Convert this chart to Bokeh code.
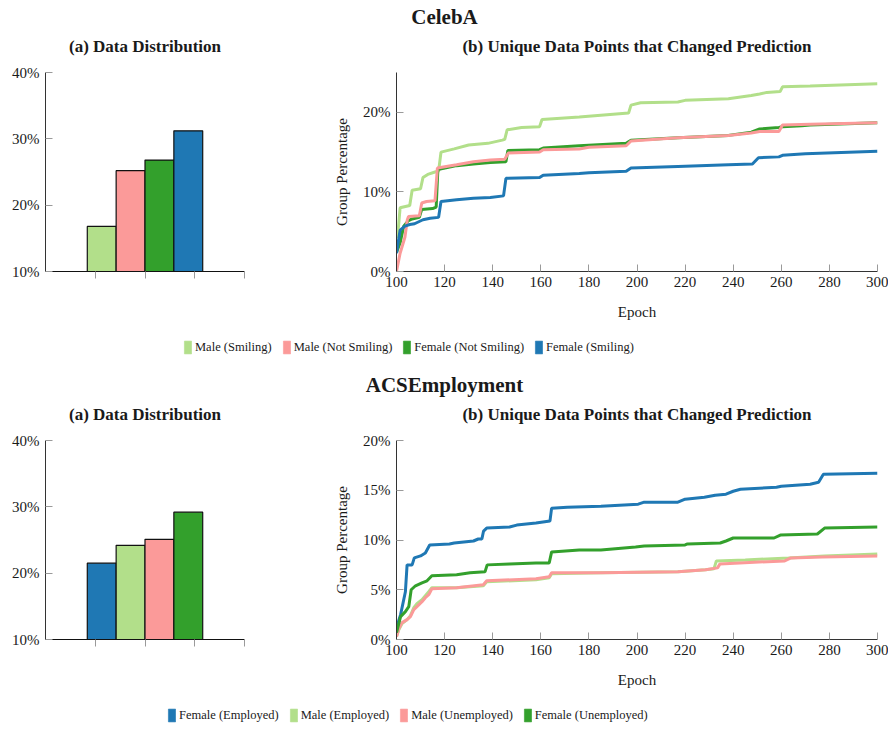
from bokeh.plotting import figure
from bokeh.models import (Range1d, FixedTicker, PrintfTickFormatter, Label, Legend, LegendItem,
                          CustomLabelingPolicy)
from bokeh.layouts import column, row
from bokeh.embed import file_html
from bokeh.resources import INLINE

SERIF = "Liberation Serif"
C_LGREEN = "#b2df8a"
C_PINK = "#fb9a99"
C_GREEN = "#33a02c"
C_BLUE = "#1f78b4"

# ---------------- CelebA ----------------
celeba_title = "CelebA"
celeba_groups = ["Male (Smiling)", "Male (Not Smiling)", "Female (Not Smiling)", "Female (Smiling)"]
celeba_colors = [C_LGREEN, C_PINK, C_GREEN, C_BLUE]
celeba_dist = [16.8, 25.2, 26.8, 31.2]

celeba_ms_ep = [100, 100.5, 101.5, 105.5, 106.5, 110, 111, 113, 116, 117.5, 118.5, 124, 130, 138, 144, 145, 146,
                152, 159.5, 160.5, 176, 196.5, 197.5, 201.5, 217, 220, 238, 247.5, 251, 254, 259.5, 260.5, 272, 300]
celeba_ms_val = [4.3, 4.5, 8.0, 8.3, 10.2, 10.4, 11.8, 12.2, 12.5, 12.6, 15.0, 15.4, 15.9, 16.1, 16.5, 16.6, 17.8,
                 18.1, 18.2, 19.1, 19.4, 19.9, 20.9, 21.2, 21.3, 21.5, 21.7, 22.1, 22.3, 22.5, 22.6, 23.2, 23.3, 23.6]

celeba_mns_ep = [100, 101.5, 103.5, 104.5, 105, 109.5, 110.5, 112.5, 116, 117, 125, 132, 139, 145, 146.5, 159.5,
                 161, 176, 180, 195.5, 197.5, 217, 238, 247.5, 251, 259, 260.5, 272, 300]
celeba_mns_val = [0.0, 2.3, 4.3, 6.5, 6.9, 7.0, 8.6, 8.8, 8.9, 13.0, 13.4, 13.8, 14.0, 14.1, 14.9, 15.0,
                  15.3, 15.4, 15.6, 15.8, 16.4, 16.8, 17.1, 17.4, 17.6, 17.6, 18.4, 18.5, 18.7]

celeba_fns_ep = [100, 101.5, 103, 105, 106.5, 109.5, 110.5, 115, 116.5, 117.2, 125, 132, 139, 145.5, 146.3, 159.5,
                 161, 176, 195.5, 197.5, 217, 238, 247.5, 251, 259, 260.5, 268.5, 272, 300]
celeba_fns_val = [2.4, 3.6, 5.7, 6.4, 6.6, 6.8, 7.8, 7.9, 8.1, 12.8, 13.3, 13.5, 13.7, 13.8, 15.2, 15.3,
                  15.5, 15.8, 16.1, 16.5, 16.8, 17.1, 17.5, 17.9, 18.1, 18.2, 18.3, 18.4, 18.7]

celeba_fs_ep = [100, 101.5, 103.5, 105.5, 107.5, 111, 114, 117.5, 118.5, 125, 132, 139, 144.5, 145.5, 159.5, 161,
                176, 180, 195.5, 197.5, 217, 238, 248, 250.5, 259, 260.5, 270, 300]
celeba_fs_val = [2.3, 5.2, 5.7, 5.9, 6.0, 6.5, 6.7, 6.8, 8.8, 9.0, 9.2, 9.3, 9.5, 11.7, 11.8, 12.1,
                 12.3, 12.4, 12.6, 13.0, 13.2, 13.4, 13.5, 14.3, 14.4, 14.6, 14.8, 15.1]

celeba_yticks = [0, 10, 20]
celeba_ymax = 25

# ---------------- ACSEmployment ----------------
acs_title = "ACSEmployment"
acs_groups = ["Female (Employed)", "Male (Employed)", "Male (Unemployed)", "Female (Unemployed)"]
acs_colors = [C_BLUE, C_LGREEN, C_PINK, C_GREEN]
acs_dist = [21.5, 24.2, 25.1, 29.2]

acs_fe_ep = [100, 101.7, 103.7, 104.4, 106.5, 107.4, 110, 112, 113.8, 122, 124, 132, 134, 135.5, 136.2, 137.5,
             147, 150, 158, 163.8, 164.5, 171, 185, 200.5, 203, 217, 220, 228, 232.5, 237, 240, 243, 258, 260,
             272, 275.5, 277.5, 300]
acs_fe_val = [1.2, 2.5, 4.8, 7.5, 7.5, 8.2, 8.4, 8.7, 9.5, 9.6, 9.7, 9.9, 10.1, 10.1, 10.9, 11.2,
              11.3, 11.5, 11.7, 11.9, 13.2, 13.3, 13.4, 13.6, 13.8, 13.8, 14.1, 14.3, 14.5, 14.6, 14.9, 15.1, 15.3, 15.4,
              15.6, 15.8, 16.6, 16.7]

acs_me_ep = [100, 101, 102.3, 104.4, 105.8, 107.2, 108.5, 110.6, 112, 113.4, 114.7, 125, 136.1, 137.5, 158, 163.5,
             164.5, 185, 217, 228.5, 232, 233, 245, 263, 278, 300]
acs_me_val = [0.3, 1.0, 1.6, 2.0, 2.4, 3.2, 3.6, 4.0, 4.4, 4.8, 5.2, 5.2, 5.4, 5.8, 6.0, 6.2,
              6.6, 6.7, 6.8, 7.0, 7.1, 7.9, 8.0, 8.2, 8.4, 8.6]

acs_mu_ep = [100, 101, 102.3, 104.4, 105.8, 107.2, 108.5, 110.6, 112, 113.4, 114.7, 125, 136.1, 137.5, 158, 163.5,
             164.5, 185, 217, 228.5, 233.5, 234.5, 242.7, 261.4, 264, 277, 300]
acs_mu_val = [0.3, 1.1, 1.7, 2.0, 2.3, 3.0, 3.3, 3.8, 4.2, 4.5, 5.1, 5.2, 5.5, 5.9, 6.1, 6.3,
              6.7, 6.7, 6.8, 7.0, 7.2, 7.6, 7.7, 7.9, 8.2, 8.3, 8.4]

acs_fu_ep = [100, 101.7, 103.7, 105.1, 106.1, 107.9, 110.6, 112.7, 114.7, 125, 130.6, 136.8, 137.7, 147, 158, 163.5,
             164.5, 176, 185, 199.4, 203, 220, 221, 234.6, 237, 240, 257, 259.6, 275, 278, 300]
acs_fu_val = [0.7, 2.3, 2.8, 3.3, 5.0, 5.4, 5.7, 5.9, 6.4, 6.5, 6.7, 6.8, 7.5, 7.6, 7.7, 7.7,
              8.8, 9.0, 9.0, 9.3, 9.4, 9.5, 9.6, 9.7, 9.9, 10.2, 10.2, 10.5, 10.6, 11.2, 11.3]

acs_yticks = [0, 5, 10, 15, 20]
acs_ymax = 20

bar_yticks = [10, 20, 30, 40]
bar_xticks = [1, 2, 3, 4]
epoch_ticks = [100, 120, 140, 160, 180, 200, 220, 240, 260, 280, 300]

sub_a = "(a) Data Distribution"
sub_b = "(b) Unique Data Points that Changed Prediction"

AXIS_COLOR = "#333333"
TICK_COLOR = "#9a9a9a"
TEXT_COLOR = "#1a1a1a"
W_BAR = 300
W_LINE = 588
W_TOTAL = W_BAR + W_LINE
BAR_BL, BAR_BR = 45, 56
LINE_BL, LINE_BR = 96, 11


def blank_fig(h):
    p = figure(width=W_TOTAL, height=h, x_axis_type=None, y_axis_type=None,
               x_range=Range1d(0, 1), y_range=Range1d(0, 1),
               toolbar_location=None, output_backend="svg", min_border=0)
    p.outline_line_color = None
    p.background_fill_color = None
    p.border_fill_color = None
    return p


def header_fig(text, h, y_title, y_sub):
    p = blank_fig(h)
    p.add_layout(Label(x=W_TOTAL / 2, y=y_title, x_units="screen", y_units="screen", text=text,
                       text_align="center", text_baseline="middle",
                       text_font=SERIF, text_font_size="21px", text_font_style="bold",
                       text_color=TEXT_COLOR))
    bar_cx = BAR_BL + (W_BAR - BAR_BL - BAR_BR) / 2
    line_cx = W_BAR + LINE_BL + (W_LINE - LINE_BL - LINE_BR) / 2
    for cx, sub in ((bar_cx, sub_a), (line_cx, sub_b)):
        p.add_layout(Label(x=cx, y=y_sub, x_units="screen", y_units="screen", text=sub,
                           text_align="center", text_baseline="middle",
                           text_font=SERIF, text_font_size="17px", text_font_style="bold",
                           text_color=TEXT_COLOR))
    return p


def legend_fig(labels, colors, h, x, y):
    p = blank_fig(h)
    items = []
    for lab, c in zip(labels, colors):
        # legend proxy, placed outside the visible range
        r = p.vbar(x=[-1], top=[-1], width=0.1, fill_color=c, line_color=c, line_alpha=0.6)
        items.append(LegendItem(label=lab, renderers=[r]))
    lg = Legend(items=items, orientation="horizontal", location=(x, y),
                glyph_width=9, glyph_height=16, label_height=16, label_width=10,
                label_standoff=3, spacing=10, padding=0, margin=0,
                border_line_color=None, background_fill_alpha=0,
                label_text_font=SERIF, label_text_font_size="12.5px", label_text_color=TEXT_COLOR)
    p.add_layout(lg)
    return p


def style_common(p):
    p.outline_line_color = None
    p.xgrid.grid_line_color = None
    p.ygrid.grid_line_color = None
    for ax in p.axis:
        ax.axis_line_color = AXIS_COLOR
        ax.axis_line_width = 1
        ax.major_tick_line_color = TICK_COLOR
        ax.minor_tick_line_color = None
        ax.major_label_text_font = SERIF
        ax.major_label_text_font_size = "15px"
        ax.major_label_text_color = TEXT_COLOR
        ax.axis_label_text_font = SERIF
        ax.axis_label_text_font_size = "15px"
        ax.axis_label_text_font_style = "normal"
        ax.axis_label_text_color = TEXT_COLOR


def bar_fig(vals, colors, h, top, bottom):
    p = figure(width=W_BAR, height=h, x_range=Range1d(0, 4), y_range=Range1d(10, 40),
               toolbar_location=None, output_backend="svg",
               min_border_left=BAR_BL, min_border_right=BAR_BR, min_border_top=top, min_border_bottom=bottom)
    n = len(vals)
    w = 0.58
    xs = [2 + (i - (n - 1) / 2) * w for i in range(n)]
    p.vbar(x=xs, top=vals, bottom=10, width=w, fill_color=colors,
           line_color="#111111", line_width=1.2)
    style_common(p)
    p.yaxis.ticker = FixedTicker(ticks=bar_yticks)
    p.yaxis.formatter = PrintfTickFormatter(format="%d%%")
    p.yaxis.major_tick_in = 7
    p.yaxis.major_tick_out = 0
    p.yaxis.major_label_standoff = 6
    p.xaxis.ticker = FixedTicker(ticks=bar_xticks)
    p.xaxis.major_tick_in = 0
    p.xaxis.major_tick_out = 7
    p.xaxis.major_label_policy = CustomLabelingPolicy(code="""
        for (const i of Array.from(indices)) indices.unset(i)
    """)
    p.xaxis.axis_line_color = "#111111"
    return p


def line_fig(series, ymax, yticks, h, top, bottom):
    p = figure(width=W_LINE, height=h, x_range=Range1d(100, 300), y_range=Range1d(0, ymax),
               toolbar_location=None, output_backend="svg",
               min_border_left=LINE_BL, min_border_right=LINE_BR, min_border_top=top, min_border_bottom=bottom)
    for ep, val, c in series:
        p.line(ep, val, line_color=c, line_width=3)
    style_common(p)
    p.xaxis.ticker = FixedTicker(ticks=epoch_ticks)
    p.yaxis.ticker = FixedTicker(ticks=yticks)
    p.yaxis.formatter = PrintfTickFormatter(format="%d%%")
    for ax in p.axis:
        ax.major_tick_in = 7
        ax.major_tick_out = 0
    p.xaxis.major_label_standoff = 5
    p.yaxis.major_label_standoff = 6
    p.xaxis.axis_label = "Epoch"
    p.yaxis.axis_label = "Group Percentage"
    p.xaxis.axis_label_standoff = 14
    p.yaxis.axis_label_standoff = 10
    return p


h1 = header_fig(celeba_title, 60, 43.5, 14)
b1 = bar_fig(celeba_dist, celeba_colors, 266, 12, 55)
l1 = line_fig([(celeba_ms_ep, celeba_ms_val, C_LGREEN),
               (celeba_fns_ep, celeba_fns_val, C_GREEN),
               (celeba_mns_ep, celeba_mns_val, C_PINK),
               (celeba_fs_ep, celeba_fs_val, C_BLUE)],
              celeba_ymax, celeba_yticks, 266, 12, 55)
g1 = legend_fig(celeba_groups, celeba_colors, 40, 183, 11)

h2 = header_fig(acs_title, 62, 44, 14)
b2 = bar_fig(acs_dist, acs_colors, 262, 12, 51)
l2 = line_fig([(acs_fe_ep, acs_fe_val, C_BLUE),
               (acs_me_ep, acs_me_val, C_LGREEN),
               (acs_mu_ep, acs_mu_val, C_PINK),
               (acs_fu_ep, acs_fu_val, C_GREEN)],
              acs_ymax, acs_yticks, 262, 12, 51)
g2 = legend_fig(acs_groups, acs_colors, 38, 167, 5)

layout = column(h1, row(b1, l1), g1, h2, row(b2, l2), g2)

open("out.html", "w").write(file_html(layout, INLINE))
